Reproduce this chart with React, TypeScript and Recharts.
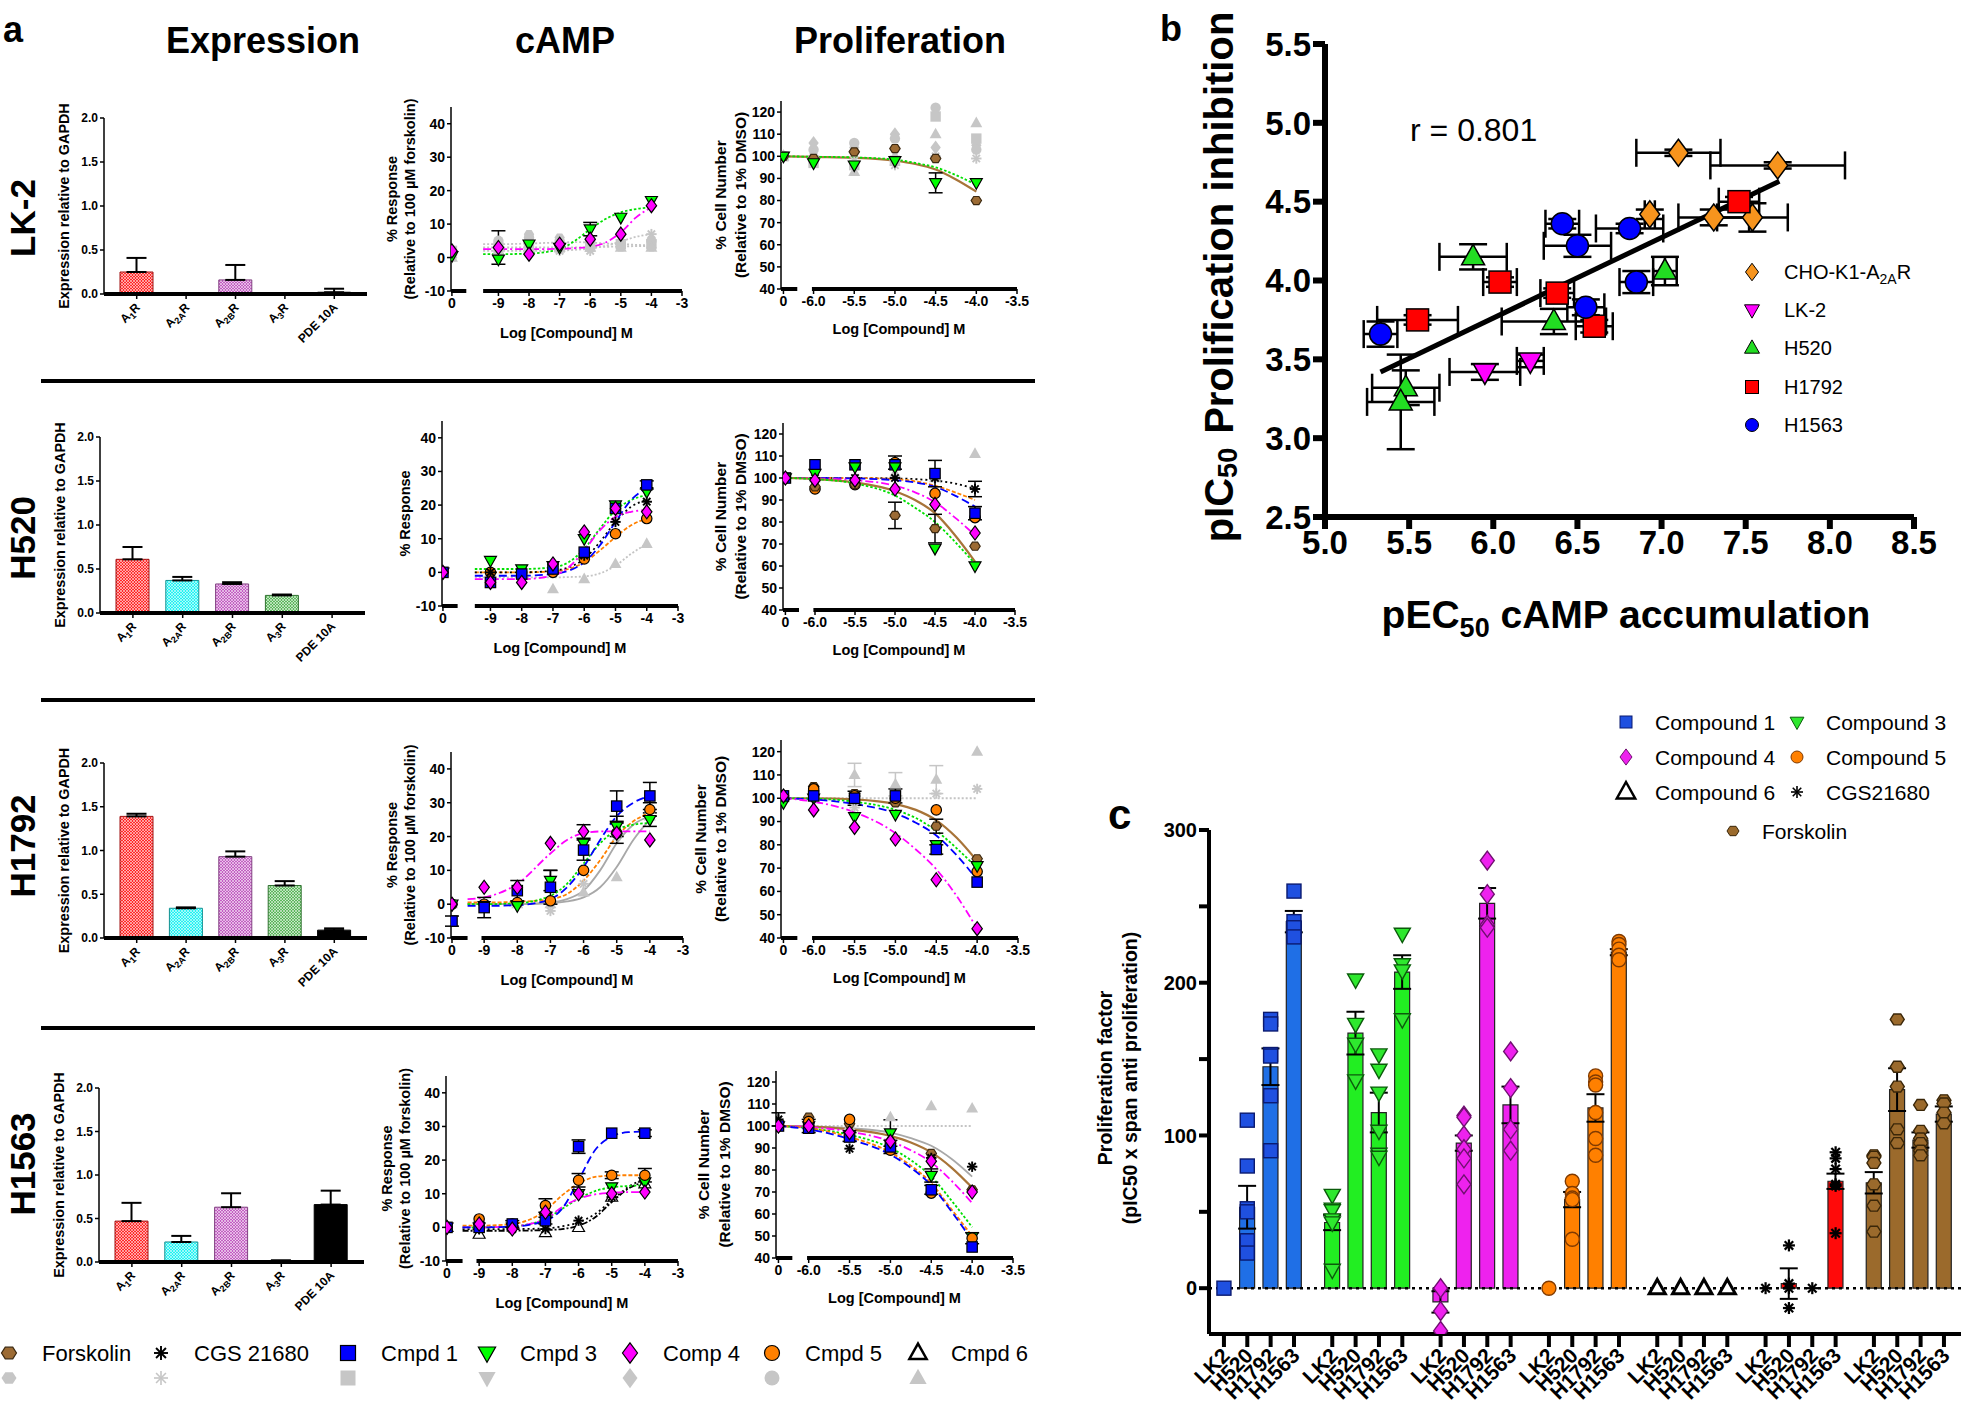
import React from 'react';
import {
  BarChart, Bar, ComposedChart, ScatterChart, Scatter, Line, XAxis, YAxis,
  ErrorBar, ReferenceLine, Cell,
} from 'recharts';

const FONT = '"Liberation Sans", Arial, Helvetica, sans-serif';

// ---------- panel a: receptor expression (relative to GAPDH) ----------
const receptors = ['A1R', 'A2AR', 'A2BR', 'A3R', 'PDE 10A'];
const recParts = [['A', '1', 'R'], ['A', '2A', 'R'], ['A', '2B', 'R'], ['A', '3', 'R'], ['PDE 10A', '', '']];
const lk2Expr = [0.25, 0, 0.16, 0, 0.02];
const lk2ExprErr = [0.16, 0, 0.17, 0, 0.04];
const h520Expr = [0.61, 0.37, 0.33, 0.2, 0];
const h520ExprErr = [0.14, 0.04, 0.02, 0.01, 0];
const h1792Expr = [1.39, 0.34, 0.93, 0.6, 0.09];
const h1792ExprErr = [0.03, 0.01, 0.06, 0.05, 0.02];
const h1563Expr = [0.47, 0.23, 0.63, 0.01, 0.66];
const h1563ExprErr = [0.21, 0.07, 0.16, 0.01, 0.16];

// ---------- panel a: cAMP (% response) ----------
// doses: vehicle (plotted at the "0" tick), then log M
const campDoses = [null, -9, -8, -7, -6, -5, -4];
const campFitX = [-9.5, -9, -8, -7, -6.5, -6, -5.5, -5, -4.5, -4];

const lk2CampC3 = [0.5, -0.5, 4, 3, 8.5, 12, 17];
const lk2CampC3Err = [0, 0, 0, 0, 2, 0, 0];
const lk2CampC4 = [2, 3, 1, 4, 5.5, 7, 15.5];
const lk2CampC4Err = [0, 5, 0, 0, 0, 0, 0];
const lk2CampGrayFsk = [1, 4, 7, 6, 3, 3, 3];
const lk2CampGrayCgs = [0, 3, 2, 2, 2, 4, 7];
const lk2CampGrayC1 = [2, 3, 3, 3, 4, 4, 4];
const lk2CampGrayC5 = [1, 5, 6, 5, 3, 4, 5];
const lk2CampGrayC6 = [0, 2, 3, 3, 3, 3, 3];
const lk2CampFitC3 = [1, 1, 1.2, 2.5, 5, 8.5, 11.5, 13.5, 14.5, 15];
const lk2CampFitC4 = [2.5, 2.5, 2.5, 2.6, 2.8, 3.2, 4.5, 7.5, 12, 15];
const lk2CampFitGrayA = [2, 2, 2, 2.1, 2.3, 2.7, 3.5, 4.8, 6.2, 7];
const lk2CampFitGrayB = [4, 4, 4.2, 4.5, 4.6, 4.5, 4.2, 4, 3.8, 3.6];
const lk2CampFitGrayC = [3, 3, 3, 3, 3, 3.1, 3.2, 3.3, 3.4, 3.4];

const h520CampC1 = [0, -3, -0.5, 1, 6, 19, 26];
const h520CampC1Err = [0, 0, 0, 0, 0, 0, 1.2];
const h520CampC3 = [0, 3.5, 1, 2, 10, 20, 24];
const h520CampC4 = [0, -3, -3, 2.5, 12, 19, 18];
const h520CampC5 = [0, 0, 0, 0, 4, 11.5, 16];
const h520CampCgs = [0, 0, 0, 1, 5, 15, 21];
const h520CampGrayC6 = [0, 0, 0, -5, -2, 2.5, 8.5];
const h520CampFitC1 = [-1, -1, -1, -0.5, 0.5, 3, 8, 15, 21.5, 25];
const h520CampFitC3 = [1, 1, 1, 1.5, 3, 7, 13, 18.5, 21.5, 23];
const h520CampFitC4 = [-2, -2, -2, -1, 1.5, 6.5, 12.5, 16.5, 18, 18.5];
const h520CampFitC5 = [0, 0, 0, 0.3, 1, 3, 6.5, 10.5, 14, 16];
const h520CampFitCgs = [0, 0, 0, 0.5, 1.5, 4, 9, 15, 19.5, 21.5];
const h520CampFitGray = [-1.5, -1.5, -1.5, -1.5, -1.4, -1.2, -0.3, 2, 5.5, 8.5];

const h1792CampC1 = [-5, -1, 4, 5, 16, 29, 32];
const h1792CampC1Err = [1.5, 3, 3, 5, 3, 4.5, 4];
const h1792CampC3 = [0, -0.5, -0.5, 7, 18, 23, 25];
const h1792CampC3Err = [0, 0, 0, 3, 0, 3, 2];
const h1792CampC4 = [0, 5, 5, 18, 21.5, 21, 19];
const h1792CampC4Err = [0, 0, 0, 0, 2, 0, 0];
const h1792CampC5 = [0, 0, 0.5, 1, 10, 21, 28];
const h1792CampC5Err = [0, 0, 0, 0, 0, 3, 2];
const h1792CampGrayCgs = [0, 0, 0, -2, 6, 20, 27];
const h1792CampGrayC6 = [0, 0, 0, 0, 3.5, 8, 26];
const h1792CampFitC4 = [1.5, 2, 6, 15, 19, 21, 21.5, 21.5, 21.5, 21.5];
const h1792CampFitC1 = [-0.5, -0.5, -0.3, 1.5, 5, 11, 19, 26, 30, 32];
const h1792CampFitC3 = [0, 0, 0.3, 2.5, 6, 12, 18, 22, 23.5, 24];
const h1792CampFitC5 = [0.5, 0.5, 0.7, 1.5, 3, 7, 13, 20, 24.5, 27];
const h1792CampFitGrayA = [0, 0, 0, 0.5, 1.5, 4, 10, 18, 23.5, 26];
const h1792CampFitGrayB = [0, 0, 0, 0.3, 0.8, 2, 5, 11, 19, 25];

const h1563CampC1 = [0, 0, 1, 2, 24, 28, 28];
const h1563CampC1Err = [0, 0, 1, 1, 2, 0, 1];
const h1563CampC3 = [0, 0, 0, 3, 10, 12, 13.5];
const h1563CampC4 = [0, 1, -0.5, 4.5, 10, 10, 10.5];
const h1563CampC5 = [0, 2.5, 1, 6.5, 14, 15.5, 15.5];
const h1563CampC5Err = [0, 0, 0, 2, 2, 1, 2];
const h1563CampCgs = [0, -0.5, -0.5, -0.5, 2, 9, 14];
const h1563CampC6 = [0, -2, null, -1.5, 0, 9, 13];
const h1563CampFitC1 = [0, 0, 0.2, 2, 5.5, 14, 23, 27, 28.3, 28.5];
const h1563CampFitC5 = [0.5, 0.5, 1, 5, 9.5, 13, 15, 15.4, 15.5, 15.5];
const h1563CampFitC3 = [0, 0, 0.3, 2.5, 5.5, 8.5, 10.8, 11.9, 12.3, 12.5];
const h1563CampFitC4 = [0, 0, 0.3, 2.5, 6, 8.5, 9.8, 10.3, 10.5, 10.5];
const h1563CampFitCgs = [-0.5, -0.5, -0.5, -0.3, 0.3, 1.5, 4, 8, 12, 14.5];
const h1563CampFitC6 = [-1, -1, -1, -0.8, -0.5, 0.5, 3, 7.5, 11.5, 13.5];

// ---------- panel a: proliferation (% cell number) ----------
const prolDoses = [null, -6, -5.5, -5, -4.5, -4];
const prolFitX = [null, -6, -5.5, -5, -4.75, -4.5, -4.25, -4];

const lk2ProlFsk = [100, 99, 102, 103.5, 99, 80];
const lk2ProlC3 = [100, 97, 96, 98, 88, 88];
const lk2ProlC3Err = [0, 0, 0, 0, 4.5, 0];
const lk2ProlGrayC1 = [100, 97, 96, 98, 118, 108];
const lk2ProlGrayC4 = [100, 106, 104, 110, 104, 105];
const lk2ProlGrayC5 = [100, 103, 106, 108, 122, 103];
const lk2ProlGrayC6 = [100, 101, 93, 100, 110, 115];
const lk2ProlGrayCgs = [100, 100, 98, 96, 100, 99];
const lk2ProlFitFsk = [100, 99.7, 99.3, 98, 96.5, 94, 89.5, 84];
const lk2ProlFitC3 = [100, 99.8, 99.5, 98.5, 97, 95, 91.5, 87];

const h520ProlC1 = [100, 106, 106, 106, 102, 84];
const h520ProlC1Err = [0, 0, 0, 0, 6, 3];
const h520ProlC3 = [100, 102, 105, 105, 68, 60];
const h520ProlC4 = [100, 99, 99, 95, 88, 75];
const h520ProlC5 = [100, 95, 97, 107, 93, 82];
const h520ProlC5Err = [0, 0, 0, 3, 0, 0];
const h520ProlFsk = [100, 96, 97, 83, 77, 69];
const h520ProlFskErr = [0, 0, 0, 6, 6.5, 0];
const h520ProlCgs = [100, 100, 100, 100, 100, 95];
const h520ProlCgsErr = [0, 0, 0, 0, 0, 3.5];
const h520ProlGrayC6 = [100, 100, 100, 102, 100, 111];
const h520ProlFitCgs = [100, 100, 100, 99.8, 99.5, 98.8, 97.5, 95];
const h520ProlFitC5 = [100, 100, 100, 99.5, 98.5, 96.5, 93.5, 90];
const h520ProlFitC1 = [100, 100, 99.8, 99, 98, 96, 92, 87];
const h520ProlFitC4 = [100, 99.8, 99, 96.5, 93.5, 89, 82, 74];
const h520ProlFitFsk = [100, 99.5, 98, 94, 90, 84, 74, 62];
const h520ProlFitC3 = [100, 99.5, 97.5, 92, 86.5, 80, 71, 61];

const h1792ProlC1 = [101, 101, 100, 101, 78, 64];
const h1792ProlC1Err = [0, 0, 3, 3, 2, 0];
const h1792ProlC3 = [98, 100, 92, 93, 80, 71];
const h1792ProlC4 = [101, 95, 87.5, 82.5, 65, 44];
const h1792ProlC5 = [100, 104, 101, 100, 95, 68.5];
const h1792ProlFsk = [101, 105, 102, 98, 88, 74];
const h1792ProlFskErr = [0, 0, 0, 0, 3, 0];
const h1792ProlGrayCgs = [100, 100, 96, 101, 102, 104];
const h1792ProlGrayC6 = [100, 102, 110, 106, 108, 120];
const h1792ProlGrayC6Err = [0, 0, 5, 5, 6, 0];
const h1792ProlFitFsk = [100, 100, 99.5, 97.5, 95, 90.5, 83, 73];
const h1792ProlFitC3 = [100, 99.8, 98.5, 95, 91.5, 86, 78.5, 70];
const h1792ProlFitC1 = [100, 99.5, 97.5, 93.5, 89.5, 84, 75.5, 65];
const h1792ProlFitC4 = [100, 98.5, 94, 85, 78, 69.5, 58, 44];
const h1792ProlFitGray = [null, 100, 100, 100, 100, 100, 100, 100];

const h1563ProlC1 = [100, 99, 95, 90.5, 71, 45];
const h1563ProlC1Err = [0, 0, 2, 3, 2, 0];
const h1563ProlC3 = [100, 100, 96, 96.8, 77.5, 49.5];
const h1563ProlC3Err = [0, 3, 0, 6, 3, 0];
const h1563ProlC4 = [100, 100, 97, 93, 84, 70];
const h1563ProlC5 = [100, 102, 103, 89, 69.5, 49];
const h1563ProlC5Err = [0, 0, 0, 0, 0, 2.5];
const h1563ProlFsk = [100, 104, 101, 93, 87.5, 71];
const h1563ProlCgs = [103, 100, 89.7, 92, 85.5, 81.5];
const h1563ProlCgsErr = [3, 0, 0, 0, 0, 0];
const h1563ProlGrayC6 = [100, 100, 100, 104, 109, 108];
const h1563ProlFitGrayS = [100, 99.8, 99, 97, 94.5, 91, 85, 77];
const h1563ProlFitFsk = [100, 99.7, 98.5, 95.5, 92.5, 88, 81, 72];
const h1563ProlFitC4 = [100, 99.5, 97.5, 93, 89, 83.5, 75, 65];
const h1563ProlFitC3 = [100, 99, 96, 90, 84.5, 77, 66, 54];
const h1563ProlFitC5 = [100, 99, 95, 88, 82, 74, 62, 50];
const h1563ProlFitC1 = [100, 98.5, 94, 87, 81, 73, 61, 48];
const h1563ProlFitGray = [null, 100, 100, 100, 100, 100, 100, 100];

// ---------- panel b: pEC50 vs pIC50 ----------
const choX = [7.10, 7.69, 6.93, 7.31, 7.54];
const choY = [4.81, 4.73, 4.42, 4.40, 4.40];
const choXe = [0.25, 0.40, 0.03, 0.21, 0.21];
const choYe = [0.02, 0.02, 0.03, 0.05, 0.09];
const lk2X = [5.95, 6.22];
const lk2Y = [3.42, 3.49];
const lk2Xe = [0.21, 0.08];
const lk2Ye = [0.05, 0.04];
const h520X = [5.88, 7.02, 6.36, 5.48, 5.45];
const h520Y = [4.15, 4.06, 3.74, 3.32, 3.23];
const h520Xe = [0.20, 0.07, 0.31, 0.20, 0.20];
const h520Ye = [0.08, 0.09, 0.08, 0.11, 0.30];
const h1792X = [7.46, 6.04, 6.38, 5.55, 6.60];
const h1792Y = [4.50, 3.99, 3.92, 3.75, 3.71];
const h1792Xe = [0.12, 0.10, 0.10, 0.24, 0.11];
const h1792Ye = [0.03, 0.03, 0.03, 0.03, 0.04];
const h1563X = [6.41, 6.50, 6.81, 6.85, 6.55, 5.33];
const h1563Y = [4.36, 4.22, 4.33, 3.99, 3.83, 3.66];
const h1563Xe = [0.10, 0.20, 0.20, 0.10, 0.11, 0.10];
const h1563Ye = [0.03, 0.07, 0.03, 0.07, 0.05, 0.08];
const fitX = [5.33, 7.70];
const fitY = [3.42, 4.63];
const bXTicks = [5, 5.5, 6, 6.5, 7, 7.5, 8, 8.5];
const bYTicks = [2.5, 3, 3.5, 4, 4.5, 5, 5.5];

// ---------- panel c: proliferation factor ----------
const cellLines = ['LK2', 'H520', 'H1792', 'H1563'];
const c1Mean = [0, 53, 145, 240];
const c1Sem = [0, 14, 12, 7];
const c1Pts = [[0], [110, 80, 52, 50, 31, 31, 23], [176, 173, 153, 152, 126, 90], [260, 240, 236, 230]];
const c3Mean = [43, 167, 115, 207];
const c3Sem = [5, 14, 13, 11];
const c3Pts = [[61, 52, 51, 45, 43, 12], [202, 173, 160, 136], [153, 143, 128, 103, 88, 86], [232, 212, 208, 176]];
const c4Mean = [-9, 95, 252, 120];
const c4Sem = [7, 5, 10, 12];
const c4Pts = [[0, -15, -28], [113, 112, 100, 91, 85, 68], [280, 258, 238, 236], [155, 131, 104, 90]];
const c5Mean = [0, 58, 118, 220];
const c5Sem = [0, 5, 9, 2];
const c5Pts = [[0], [70, 62, 59, 58, 32], [139, 135, 133, 115, 98, 87], [227, 225, 222, 218, 215]];
const c6Mean = [0, 0, 0, 0];
const c6Sem = [0, 0, 0, 0];
const c6Pts = [[0], [0], [0], [0]];
const cgsMean = [0, 3, 0, 70];
const cgsSem = [0, 10, 0, 5];
const cgsPts = [[0], [28, 3, 0, -13], [0], [89, 85, 78, 67, 68, 36]];
const fskMean = [69, 130, 97, 114];
const fskSem = [7, 14, 5, 5];
const fskPts = [[87, 86, 82, 68, 54, 37], [176, 145, 132, 104, 95], [120, 103, 98, 95, 90, 87], [123, 121, 115, 108]];
const cYTicks = [0, 50, 100, 150, 200, 250, 300];

// ---------- styles ----------
const STY: any = {
  fsk: { kind: 'hex', fill: '#9c6b34', stroke: '#3b2810', line: '#a87438' },
  cgs: { kind: 'star', fill: '#000', stroke: '#000', line: '#000', dash: '2 3' },
  c1: { kind: 'square', fill: '#0000ff', stroke: '#000', line: '#0000ff', dash: '8 4' },
  c3: { kind: 'dtri', fill: '#00ff00', stroke: '#000', line: '#00e000', dash: '2.5 2' },
  c4: { kind: 'diamond', fill: '#ff00ff', stroke: '#000', line: '#ff00ff', dash: '8 3 2 3' },
  c5: { kind: 'circle', fill: '#ff8000', stroke: '#000', line: '#ff8000', dash: '4 2' },
  c6: { kind: 'utri', fill: '#ffffff', stroke: '#000', line: '#000', dash: '6 2 2 2' },
  gray: { line: '#c4c4c4', dash: '2 2' },
  grayS: { line: '#a8a8a8' },
};
const GRAY = '#c6c6c6';
const exprColors = ['#ff2a2a', '#22f2f2', '#c25ec2', '#5cb85c', '#000000'];
const exprStroke = ['#a01010', '#109090', '#804080', '#307030', '#000000'];

const cStyle: any = {
  c1: { kind: 'square', fill: '#1f50e0', stroke: '#0a1a70', bar: '#1f6fe6' },
  c3: { kind: 'dtri', fill: '#2ee82e', stroke: '#0b5b0b', bar: '#22ee22' },
  c4: { kind: 'diamond', fill: '#ee22ee', stroke: '#701070', bar: '#ee22ee' },
  c5: { kind: 'circle', fill: '#ff8000', stroke: '#803a00', bar: '#ff8000' },
  c6: { kind: 'utri', fill: '#ffffff', stroke: '#000', bar: 'none' },
  cgs: { kind: 'star', fill: '#000', stroke: '#000', bar: '#ff0a0a' },
  fsk: { kind: 'hex', fill: '#9b6a2c', stroke: '#3a2608', bar: '#9b6a2c' },
};

// ---------- layout (plot rectangles, page px) ----------
const exprGeo = [{ l: 104, r: 367, t: 118, b: 294 }, { l: 100, r: 365, t: 437, b: 613 }, { l: 104, r: 367, t: 763, b: 938 }, { l: 99, r: 364, t: 1088, b: 1262 }];
const campGeo = [{ l: 451, r: 682, t: 107, b: 291 }, { l: 442, r: 678, t: 421, b: 606 }, { l: 451, r: 683, t: 752, b: 938 }, { l: 446, r: 678, t: 1076, b: 1261 }];
const prolGeo = [{ l: 781, r: 1017, t: 101, b: 289 }, { l: 783, r: 1015, t: 423, b: 610 }, { l: 781, r: 1018, t: 740, b: 938 }, { l: 776, r: 1013, t: 1071, b: 1258 }];
const campStart = [-10.55, -10.55, -10, -10];
const campSeg2 = [-9.5, -9.5, -9.08, -9.08];
const rowLabelY = [218, 538, 846, 1164];
const campLabX = [[-59, -41], [-37], [-59, -41], [-59, -41]];
const prolLabX = [[-61, -41], [-63, -43], [-81, -61], [-73, -52]];

const rowsA: any[] = [
  {
    name: 'LK-2', expr: lk2Expr, exprErr: lk2ExprErr,
    camp: [['fsk', lk2CampGrayFsk, 1], ['cgs', lk2CampGrayCgs, 1], ['c1', lk2CampGrayC1, 1], ['c5', lk2CampGrayC5, 1], ['c6', lk2CampGrayC6, 1], ['c3', lk2CampC3, 0, lk2CampC3Err], ['c4', lk2CampC4, 0, lk2CampC4Err]],
    campFits: [['gray', lk2CampFitGrayA], ['gray', lk2CampFitGrayB], ['gray', lk2CampFitGrayC], ['c3', lk2CampFitC3], ['c4', lk2CampFitC4]],
    prol: [['c1', lk2ProlGrayC1, 1], ['c4', lk2ProlGrayC4, 1], ['c5', lk2ProlGrayC5, 1], ['c6', lk2ProlGrayC6, 1], ['cgs', lk2ProlGrayCgs, 1], ['fsk', lk2ProlFsk, 0], ['c3', lk2ProlC3, 0, lk2ProlC3Err]],
    prolFits: [['fsk', lk2ProlFitFsk], ['c3', lk2ProlFitC3]],
    campLab: ['% Response', '(Relative to 100 µM forskolin)'],
  },
  {
    name: 'H520', expr: h520Expr, exprErr: h520ExprErr,
    camp: [['c6', h520CampGrayC6, 1], ['c5', h520CampC5, 0], ['cgs', h520CampCgs, 0], ['c3', h520CampC3, 0], ['c1', h520CampC1, 0, h520CampC1Err], ['c4', h520CampC4, 0]],
    campFits: [['gray', h520CampFitGray], ['c5', h520CampFitC5], ['cgs', h520CampFitCgs], ['c3', h520CampFitC3], ['c1', h520CampFitC1], ['c4', h520CampFitC4]],
    prol: [['c6', h520ProlGrayC6, 1], ['c5', h520ProlC5, 0, h520ProlC5Err], ['fsk', h520ProlFsk, 0, h520ProlFskErr], ['cgs', h520ProlCgs, 0, h520ProlCgsErr], ['c1', h520ProlC1, 0, h520ProlC1Err], ['c3', h520ProlC3, 0], ['c4', h520ProlC4, 0]],
    prolFits: [['cgs', h520ProlFitCgs], ['c5', h520ProlFitC5], ['c1', h520ProlFitC1], ['c4', h520ProlFitC4], ['fsk', h520ProlFitFsk], ['c3', h520ProlFitC3]],
    campLab: ['% Response'],
  },
  {
    name: 'H1792', expr: h1792Expr, exprErr: h1792ExprErr,
    camp: [['cgs', h1792CampGrayCgs, 1], ['c6', h1792CampGrayC6, 1], ['c5', h1792CampC5, 0, h1792CampC5Err], ['c3', h1792CampC3, 0, h1792CampC3Err], ['c1', h1792CampC1, 0, h1792CampC1Err], ['c4', h1792CampC4, 0, h1792CampC4Err]],
    campFits: [['grayS', h1792CampFitGrayA], ['grayS', h1792CampFitGrayB], ['c5', h1792CampFitC5], ['c3', h1792CampFitC3], ['c1', h1792CampFitC1], ['c4', h1792CampFitC4]],
    prol: [['cgs', h1792ProlGrayCgs, 1], ['c6', h1792ProlGrayC6, 1, h1792ProlGrayC6Err], ['fsk', h1792ProlFsk, 0, h1792ProlFskErr], ['c5', h1792ProlC5, 0], ['c3', h1792ProlC3, 0], ['c1', h1792ProlC1, 0, h1792ProlC1Err], ['c4', h1792ProlC4, 0]],
    prolFits: [['gray', h1792ProlFitGray], ['fsk', h1792ProlFitFsk], ['c3', h1792ProlFitC3], ['c1', h1792ProlFitC1], ['c4', h1792ProlFitC4]],
    campLab: ['% Response', '(Relative to 100 µM forskolin)'],
  },
  {
    name: 'H1563', expr: h1563Expr, exprErr: h1563ExprErr,
    camp: [['c6', h1563CampC6, 0], ['cgs', h1563CampCgs, 0], ['c3', h1563CampC3, 0], ['c5', h1563CampC5, 0, h1563CampC5Err], ['c1', h1563CampC1, 0, h1563CampC1Err], ['c4', h1563CampC4, 0]],
    campFits: [['c6', h1563CampFitC6], ['cgs', h1563CampFitCgs], ['c3', h1563CampFitC3], ['c4', h1563CampFitC4], ['c5', h1563CampFitC5], ['c1', h1563CampFitC1]],
    prol: [['c6', h1563ProlGrayC6, 1], ['fsk', h1563ProlFsk, 0], ['cgs', h1563ProlCgs, 0, h1563ProlCgsErr], ['c3', h1563ProlC3, 0, h1563ProlC3Err], ['c5', h1563ProlC5, 0, h1563ProlC5Err], ['c1', h1563ProlC1, 0, h1563ProlC1Err], ['c4', h1563ProlC4, 0]],
    prolFits: [['gray', h1563ProlFitGray], ['grayS', h1563ProlFitGrayS], ['fsk', h1563ProlFitFsk], ['c4', h1563ProlFitC4], ['c3', h1563ProlFitC3], ['c5', h1563ProlFitC5], ['c1', h1563ProlFitC1]],
    campLab: ['% Response', '(Relative to 100 µM forskolin)'],
  },
];

const tickFont = (size: number) => ({ fontSize: size, fontWeight: 700, fill: '#000', fontFamily: FONT });

function frame(g: any, p: any) {
  return { left: g.l - p.W, top: g.t - p.T, width: g.r - g.l + p.W + p.R, height: g.b - g.t + p.T + p.H };
}

function Sym({ kind, x, y, r, fill, stroke, sw = 1 }: any) {
  const c = { fill, stroke, strokeWidth: sw };
  switch (kind) {
    case 'square':
      return <rect x={x - r} y={y - r} width={2 * r} height={2 * r} {...c} />;
    case 'circle':
      return <circle cx={x} cy={y} r={r} {...c} />;
    case 'diamond':
      return <polygon points={`${x},${y - r * 1.35} ${x + r},${y} ${x},${y + r * 1.35} ${x - r},${y}`} {...c} />;
    case 'dtri':
      return <polygon points={`${x - r * 1.15},${y - r * 0.8} ${x + r * 1.15},${y - r * 0.8} ${x},${y + r * 1.25}`} {...c} />;
    case 'utri':
      return <polygon points={`${x},${y - r * 1.25} ${x + r * 1.15},${y + r * 0.8} ${x - r * 1.15},${y + r * 0.8}`} {...c} />;
    case 'hex': {
      const p = [0, 1, 2, 3, 4, 5]
        .map((k) => {
          const a = k * Math.PI / 3;
          return `${x + r * Math.cos(a)},${y + r * 0.9 * Math.sin(a)}`;
        })
        .join(' ');
      return <polygon points={p} {...c} />;
    }
    case 'star':
      return (
        <g stroke={fill} strokeWidth={Math.max(1.6, sw * 1.6)}>
          {[0, 45, 90, 135].map((a) => {
            const dx = r * Math.cos((a * Math.PI) / 180);
            const dy = r * Math.sin((a * Math.PI) / 180);
            return <line key={a} x1={x - dx} y1={y - dy} x2={x + dx} y2={y + dy} />;
          })}
        </g>
      );
  }
  return null;
}

const toXY = (vals: any[], xs: any[], ctrlX: number, errs?: number[]) =>
  vals.map((y, i) => ({ x: xs[i] ?? ctrlX, y, e: errs ? errs[i] : 0 }));

function DoseChart({ g, xDomain, xTicks, ctrlX, fmt, segs, yDomain, yTicks, series, fits, doses, fitXs }: any) {
  const pad = { W: 34, H: 28, T: 10, R: 18 };
  const f = frame(g, pad);
  const y0 = yDomain[0];
  return (
    <div style={{ position: 'absolute', left: f.left, top: f.top }}>
      <ComposedChart width={f.width} height={f.height} margin={{ top: pad.T, right: pad.R, left: 0, bottom: 0 }}>
        <XAxis type="number" dataKey="x" domain={xDomain} ticks={xTicks} interval={0} allowDataOverflow
          axisLine={false} tickLine={{ stroke: '#000', strokeWidth: 1.5 }} tickSize={5} height={pad.H}
          tick={tickFont(14)} tickFormatter={(v: number) => (v === ctrlX ? '0' : fmt(v))} />
        <YAxis type="number" dataKey="y" domain={yDomain} ticks={yTicks} interval={0} allowDataOverflow width={pad.W}
          axisLine={{ stroke: '#000', strokeWidth: 1.5 }} tickLine={{ stroke: '#000', strokeWidth: 1.5 }} tickSize={4}
          tick={tickFont(14)} />
        {segs.map(([a, b]: number[], i: number) => (
          <ReferenceLine key={'s' + i} segment={[{ x: a, y: y0 }, { x: b, y: y0 }]} stroke="#000" strokeWidth={4} ifOverflow="visible" />
        ))}
        {fits.map(([k, vals]: any, i: number) => {
          const st = STY[k];
          return (
            <Line key={'f' + i} data={toXY(vals, fitXs, ctrlX)} dataKey="y" type="monotone" dot={false}
              stroke={st.line} strokeWidth={k === 'fsk' ? 2.2 : 1.8} strokeDasharray={st.dash} isAnimationActive={false} />
          );
        })}
        {series.map(([k, vals, gray, errs]: any, i: number) => {
          const st = STY[k];
          const data = toXY(vals, doses, ctrlX, errs).filter((d) => d.y != null);
          return (
            <Scatter key={'p' + i} data={data} dataKey="y" isAnimationActive={false}
              shape={(p: any) => (
                <Sym kind={st.kind} x={p.cx} y={p.cy} r={5.2}
                  fill={gray ? GRAY : st.fill} stroke={gray ? 'none' : st.stroke} sw={1.2} />
              )}>
              {errs ? <ErrorBar dataKey="e" direction="y" width={7} strokeWidth={1.5} stroke={gray ? GRAY : '#000'} /> : null}
            </Scatter>
          );
        })}
      </ComposedChart>
    </div>
  );
}

function ExprChart({ g, vals, errs }: any) {
  const pad = { W: 30, H: 60, T: 8, R: 6 };
  const f = frame(g, pad);
  const data = receptors.map((name, i) => ({ name, i, v: vals[i], e: [0, errs[i]] }));
  const tick = (p: any) => {
    const idx = receptors.indexOf(p.payload.value);
    const [a, sub, r] = recParts[idx];
    return (
      <text transform={`translate(${p.x + 4},${p.y + 7}) rotate(-45)`} textAnchor="end" fontSize={12} fontWeight={700} fontFamily={FONT} fill="#000">
        {a}
        {sub ? <tspan dy={3} fontSize={9}>{sub}</tspan> : null}
        {r ? <tspan dy={-3}>{r}</tspan> : null}
      </text>
    );
  };
  return (
    <div style={{ position: 'absolute', left: f.left, top: f.top }}>
      <BarChart width={f.width} height={f.height} data={data} margin={{ top: pad.T, right: pad.R, left: 0, bottom: 0 }}>
        <XAxis dataKey="name" padding={{ left: 8, right: 8 }} interval={0} height={pad.H}
          axisLine={{ stroke: '#000', strokeWidth: 4 }} tickLine={{ stroke: '#000', strokeWidth: 1.5 }} tickSize={5} tick={tick} />
        <YAxis type="number" domain={[0, 2]} ticks={[0, 0.5, 1, 1.5, 2]} interval={0} width={pad.W} allowDataOverflow
          axisLine={{ stroke: '#000', strokeWidth: 1.5 }} tickLine={{ stroke: '#000', strokeWidth: 1.5 }} tickSize={4}
          tick={tickFont(12)} tickFormatter={(v: number) => v.toFixed(1)} />
        <Bar dataKey="v" barSize={33} isAnimationActive={false}>
          {data.map((d, i) => (
            <Cell key={i} fill={i === 4 ? '#000' : `url(#hatch${i})`} stroke={exprStroke[i]} strokeWidth={1} />
          ))}
          <ErrorBar dataKey="e" width={10} strokeWidth={2} stroke="#000" direction="y" />
        </Bar>
      </BarChart>
    </div>
  );
}

function PanelB() {
  const g = { l: 1325, r: 1914, t: 44, b: 517 };
  const pad = { W: 75, H: 60, T: 20, R: 30 };
  const f = frame(g, pad);
  const mk = (xs: number[], ys: number[], xe: number[], ye: number[]) =>
    xs.map((x, i) => ({ x, y: ys[i], ex: xe[i], ey: ye[i] }));
  const series = [
    { data: mk(choX, choY, choXe, choYe), kind: 'diamond', fill: '#f7941d', r: 10 },
    { data: mk(lk2X, lk2Y, lk2Xe, lk2Ye), kind: 'dtri', fill: '#ff00ff', r: 10 },
    { data: mk(h520X, h520Y, h520Xe, h520Ye), kind: 'utri', fill: '#22dd22', r: 10 },
    { data: mk(h1792X, h1792Y, h1792Xe, h1792Ye), kind: 'square', fill: '#ff0000', r: 11 },
    { data: mk(h1563X, h1563Y, h1563Xe, h1563Ye), kind: 'circle', fill: '#0000ff', r: 11 },
  ];
  return (
    <div style={{ position: 'absolute', left: f.left, top: f.top }}>
      <ScatterChart width={f.width} height={f.height} margin={{ top: pad.T, right: pad.R, left: 0, bottom: 0 }}>
        <XAxis type="number" dataKey="x" domain={[5, 8.5]} ticks={bXTicks} interval={0} allowDataOverflow height={pad.H}
          axisLine={{ stroke: '#000', strokeWidth: 6 }} tickLine={{ stroke: '#000', strokeWidth: 6 }} tickSize={12}
          tick={tickFont(33)} tickFormatter={(v: number) => v.toFixed(1)} />
        <YAxis type="number" dataKey="y" domain={[2.5, 5.5]} ticks={bYTicks} interval={0} allowDataOverflow width={pad.W}
          axisLine={{ stroke: '#000', strokeWidth: 6 }} tickLine={{ stroke: '#000', strokeWidth: 6 }} tickSize={12}
          tick={tickFont(33)} tickFormatter={(v: number) => v.toFixed(1)} />
        <ReferenceLine segment={[{ x: fitX[0], y: fitY[0] }, { x: fitX[1], y: fitY[1] }]} stroke="#000" strokeWidth={5} ifOverflow="visible" />
        {series.map((s, i) => (
          <Scatter key={i} data={s.data} dataKey="y" isAnimationActive={false}
            shape={(p: any) => <Sym kind={s.kind} x={p.cx} y={p.cy} r={s.r} fill={s.fill} stroke="#000" sw={1.5} />}>
            <ErrorBar dataKey="ex" direction="x" width={14} strokeWidth={2.5} stroke="#000" />
            <ErrorBar dataKey="ey" direction="y" width={14} strokeWidth={2.5} stroke="#000" />
          </Scatter>
        ))}
      </ScatterChart>
    </div>
  );
}

const groupStep = 4.64;
const cGroups: any[] = [
  ['c1', c1Mean, c1Sem, c1Pts], ['c3', c3Mean, c3Sem, c3Pts], ['c4', c4Mean, c4Sem, c4Pts], ['c5', c5Mean, c5Sem, c5Pts],
  ['c6', c6Mean, c6Sem, c6Pts], ['cgs', cgsMean, cgsSem, cgsPts], ['fsk', fskMean, fskSem, fskPts],
];

function PanelC() {
  const g = { l: 1209, r: 1961, t: 830, b: 1334 };
  const pad = { W: 60, H: 86, T: 14, R: 0 };
  const f = frame(g, pad);
  const bars: any[] = [];
  cGroups.forEach(([k, mean, sem], gi) => {
    cellLines.forEach((cl, ci) => {
      bars.push({ x: Number((gi * groupStep + ci).toFixed(2)), v: mean[ci], e: sem[ci], k, label: cl });
    });
  });
  const labelOf: any = {};
  bars.forEach((b) => (labelOf[b.x.toFixed(2)] = b.label));
  const tick = (p: any) => (
    <text transform={`translate(${p.x + 7},${p.y + 8}) rotate(-45)`} textAnchor="end" fontSize={21} fontWeight={700} fontFamily={FONT} fill="#000">
      {labelOf[Number(p.payload.value).toFixed(2)]}
    </text>
  );
  return (
    <div style={{ position: 'absolute', left: f.left, top: f.top }}>
      <ComposedChart width={f.width} height={f.height} data={bars} margin={{ top: pad.T, right: pad.R, left: 0, bottom: 0 }}>
        <XAxis type="number" dataKey="x" domain={[-0.64, 31.57]} ticks={bars.map((b) => b.x)} interval={0} allowDataOverflow height={pad.H}
          axisLine={{ stroke: '#000', strokeWidth: 4 }} tickLine={{ stroke: '#000', strokeWidth: 4 }} tickSize={13} tick={tick} />
        <YAxis type="number" dataKey="y" domain={[-30, 300]} ticks={cYTicks} interval={0} allowDataOverflow width={pad.W}
          axisLine={{ stroke: '#000', strokeWidth: 4 }} tickLine={{ stroke: '#000', strokeWidth: 4 }} tickSize={10}
          tick={tickFont(20)} tickFormatter={(v: number) => (v % 100 === 0 ? String(v) : '')} />
        <Bar dataKey="v" barSize={15} isAnimationActive={false}>
          {bars.map((b, i) => (
            <Cell key={i} fill={cStyle[b.k].bar} stroke={b.k === 'c6' ? 'none' : '#222'} strokeWidth={1.2} />
          ))}
          <ErrorBar dataKey="e" width={9} strokeWidth={2} stroke="#000" direction="y" />
        </Bar>
        <ReferenceLine y={0} stroke="#000" strokeDasharray="3 4" strokeWidth={2.5} />
        {cGroups.map(([k, , , pts], gi) => {
          const st = cStyle[k];
          const data: any[] = [];
          pts.forEach((arr: number[], ci: number) => arr.forEach((y) => data.push({ x: Number((gi * groupStep + ci).toFixed(2)), y })));
          return (
            <Scatter key={k} data={data} dataKey="y" isAnimationActive={false}
              shape={(p: any) => <Sym kind={st.kind} x={p.cx} y={p.cy} r={k === 'cgs' ? 6 : 7} fill={st.fill} stroke={st.stroke} sw={k === 'c6' ? 3 : 1.4} />} />
          );
        })}
      </ComposedChart>
    </div>
  );
}

const legendA = [['fsk', 'Forskolin'], ['cgs', 'CGS 21680'], ['c1', 'Cmpd 1'], ['c3', 'Cmpd 3'], ['c4', 'Comp 4'], ['c5', 'Cmpd 5'], ['c6', 'Cmpd 6']];
const legendAX = [9, 161, 348, 487, 630, 772, 918];
const legendB = [['diamond', '#f7941d'], ['dtri', '#ff00ff'], ['utri', '#22dd22'], ['square', '#ff0000'], ['circle', '#0000ff']];
const legendBNames = ['CHO-K1-A', 'LK-2', 'H520', 'H1792', 'H1563'];
const legendBY = [272, 310, 348, 387, 425];
const legendC = [
  ['c1', 'Compound 1', 1626, 722], ['c3', 'Compound 3', 1797, 722],
  ['c4', 'Compound 4', 1626, 757], ['c5', 'Compound 5', 1797, 757],
  ['c6', 'Compound 6', 1626, 792], ['cgs', 'CGS21680', 1797, 792],
  ['fsk', 'Forskolin', 1733, 831],
];

function Overlay() {
  const bold = { fontWeight: 700 } as any;
  return (
    <svg width={1961} height={1420} style={{ position: 'absolute', left: 0, top: 0, pointerEvents: 'none' }} fontFamily={FONT} fill="#000">
      <text x={3} y={42} fontSize={36} {...bold}>a</text>
      <text x={1160} y={41} fontSize={36} {...bold}>b</text>
      <text x={1108} y={829} fontSize={42} {...bold}>c</text>
      <text x={263} y={53} fontSize={36} textAnchor="middle" {...bold}>Expression</text>
      <text x={565} y={53} fontSize={36} textAnchor="middle" {...bold}>cAMP</text>
      <text x={900} y={53} fontSize={36} textAnchor="middle" {...bold}>Proliferation</text>
      {[381, 700, 1028].map((y) => (
        <line key={y} x1={41} x2={1035} y1={y} y2={y} stroke="#000" strokeWidth={4} />
      ))}
      {rowsA.map((row, i) => {
        const eg = exprGeo[i], cg = campGeo[i], pg = prolGeo[i];
        const ecy = (eg.t + eg.b) / 2, ccy = (cg.t + cg.b) / 2, pcy = (pg.t + pg.b) / 2;
        return (
          <g key={row.name}>
            <text transform={`translate(22,${rowLabelY[i]}) rotate(-90)`} textAnchor="middle" dominantBaseline="central" fontSize={35} {...bold}>{row.name}</text>
            <text transform={`translate(${eg.l - 40},${ecy}) rotate(-90)`} textAnchor="middle" dominantBaseline="central" fontSize={14.4} {...bold}>Expression relative to GAPDH</text>
            {row.campLab.map((t: string, j: number) => (
              <text key={j} transform={`translate(${cg.l + campLabX[i][j]},${ccy}) rotate(-90)`} textAnchor="middle" dominantBaseline="central" fontSize={14.5} {...bold}>{t}</text>
            ))}
            {['% Cell Number', '(Relative to 1% DMSO)'].map((t, j) => (
              <text key={j} transform={`translate(${pg.l + prolLabX[i][j]},${pcy}) rotate(-90)`} textAnchor="middle" dominantBaseline="central" fontSize={15.5} {...bold}>{t}</text>
            ))}
            <text x={(cg.l + cg.r) / 2} y={cg.b + 47} textAnchor="middle" fontSize={14.5} {...bold}>Log [Compound] M</text>
            <text x={(pg.l + pg.r) / 2} y={pg.b + 45} textAnchor="middle" fontSize={14.5} {...bold}>Log [Compound] M</text>
          </g>
        );
      })}
      {legendA.map(([k, name], i) => {
        const st = STY[k];
        const x = legendAX[i];
        return (
          <g key={k}>
            <Sym kind={st.kind} x={x} y={1353} r={k === 'cgs' ? 7 : 7.5} fill={st.fill} stroke={st.stroke} sw={k === 'c6' ? 2.5 : 1.2} />
            <Sym kind={st.kind} x={x} y={1378} r={k === 'cgs' ? 7 : 7.5} fill={GRAY} stroke="none" />
            <text x={x + 33} y={1361} fontSize={22}>{name}</text>
          </g>
        );
      })}
      {/* panel b labels */}
      <text transform="translate(1219,277) rotate(-90)" textAnchor="middle" dominantBaseline="central" fontSize={40} {...bold}>
        pIC<tspan dy={9} fontSize={27}>50</tspan><tspan dy={-9} dx={14}>Prolification inhibition</tspan>
      </text>
      <text x={1626} y={628} textAnchor="middle" fontSize={39} {...bold}>
        pEC<tspan dy={9} fontSize={27}>50</tspan><tspan dy={-9}> cAMP accumulation</tspan>
      </text>
      <text x={1410} y={141} fontSize={32}>r = 0.801</text>
      {legendB.map(([kind, fill], i) => (
        <g key={i}>
          <Sym kind={kind} x={1752} y={legendBY[i]} r={6.5} fill={fill} stroke="#000" sw={1} />
          <text x={1784} y={legendBY[i] + 7} fontSize={20}>
            {legendBNames[i]}
            {i === 0 ? (<><tspan dy={5} fontSize={14}>2A</tspan><tspan dy={-5}>R</tspan></>) : null}
          </text>
        </g>
      ))}
      {/* panel c labels */}
      <text transform="translate(1105,1078) rotate(-90)" textAnchor="middle" dominantBaseline="central" fontSize={19.5} {...bold}>Proliferation factor</text>
      <text transform="translate(1130,1078) rotate(-90)" textAnchor="middle" dominantBaseline="central" fontSize={19.5} {...bold}>(pIC50 x span anti proliferation)</text>
      {legendC.map(([k, name, x, y]: any) => {
        const st = cStyle[k];
        return (
          <g key={k}>
            <Sym kind={st.kind} x={x} y={y} r={k === 'c6' ? 8 : 6} fill={st.fill} stroke={st.stroke} sw={k === 'c6' ? 2.5 : 1} />
            <text x={x + 29} y={y + 8} fontSize={21}>{name}</text>
          </g>
        );
      })}
    </svg>
  );
}

export default function App() {
  return (
    <div style={{ position: 'absolute', left: 0, top: 0, width: 1961, height: 1420, overflow: 'hidden', background: '#fff', fontFamily: FONT }}>
      <svg width={0} height={0} style={{ position: 'absolute' }}>
        <defs>
          {exprColors.map((c, i) => (
            <pattern key={i} id={`hatch${i}`} width={3} height={3} patternUnits="userSpaceOnUse">
              <rect width={3} height={3} fill={c} />
              <path d="M0,0 L3,3 M3,0 L0,3" stroke="#fff" strokeWidth={0.7} strokeOpacity={0.75} />
            </pattern>
          ))}
        </defs>
      </svg>
      {rowsA.map((row, i) => (
        <React.Fragment key={row.name}>
          <ExprChart g={exprGeo[i]} vals={row.expr} errs={row.exprErr} />
          <DoseChart g={campGeo[i]} xDomain={[campStart[i], -3]} ctrlX={campStart[i] + 0.03}
            xTicks={[campStart[i] + 0.03, -9, -8, -7, -6, -5, -4, -3]} fmt={(v: number) => String(v)}
            segs={[[campStart[i], campStart[i] + 0.5], [campSeg2[i], -3]]}
            yDomain={[-10, 45]} yTicks={[-10, 0, 10, 20, 30, 40]}
            series={row.camp} fits={row.campFits} doses={campDoses} fitXs={campFitX} />
          <DoseChart g={prolGeo[i]} xDomain={[-6.4, -3.5]} ctrlX={-6.37}
            xTicks={[-6.37, -6, -5.5, -5, -4.5, -4, -3.5]} fmt={(v: number) => v.toFixed(1)}
            segs={[[-6.4, -6.2], [-6.02, -3.5]]}
            yDomain={[40, 125]} yTicks={[40, 50, 60, 70, 80, 90, 100, 110, 120]}
            series={row.prol} fits={row.prolFits} doses={prolDoses} fitXs={prolFitX} />
        </React.Fragment>
      ))}
      <PanelB />
      <PanelC />
      <Overlay />
    </div>
  );
}
